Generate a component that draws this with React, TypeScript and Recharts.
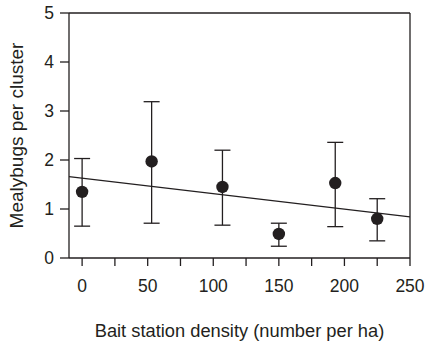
import React from 'react';
import { ComposedChart, Scatter, XAxis, YAxis, ErrorBar, ReferenceLine } from 'recharts';

const density = [0, 53, 107, 150, 193, 225];
const meanMealybugs = [1.35, 1.97, 1.45, 0.49, 1.53, 0.8];
const upperBound = [2.03, 3.19, 2.2, 0.71, 2.36, 1.21];
const lowerBound = [0.65, 0.71, 0.67, 0.24, 0.64, 0.35];

const trendX = [-10, 250];
const trendY = [1.66, 0.84];

const xTicks = [0, 25, 50, 75, 100, 125, 150, 175, 200, 225, 250];
const yTicks = [0, 1, 2, 3, 4, 5];

const data = density.map((x, i) => ({
  x,
  y: meanMealybugs[i],
  err: [meanMealybugs[i] - lowerBound[i], upperBound[i] - meanMealybugs[i]],
}));

const INK = '#231f20';
const FONT = 'Liberation Sans, Arial, sans-serif';

const Dot = (p: any) => <circle cx={p.cx} cy={p.cy} r={6.2} fill={INK} />;

export default function App() {
  return (
    <div style={{ position: 'absolute', left: 0, top: 0 }}>
      <ComposedChart
        width={425}
        height={345}
        margin={{ top: 13, right: 15, bottom: 57, left: 19 }}
        style={{ fontFamily: FONT }}
      >
        <XAxis
          type="number"
          dataKey="x"
          domain={[-10, 250]}
          ticks={xTicks}
          interval={0}
          tickFormatter={(v: number) => (v % 50 === 0 ? String(v) : '')}
          tickSize={8}
          tickMargin={14}
          height={30}
          stroke={INK}
          strokeWidth={1.3}
          tick={{ fill: INK, fontSize: 17.5, fontFamily: FONT }}
          allowDataOverflow
          label={{
            value: 'Bait station density (number per ha)',
            position: 'bottom',
            offset: 36,
            style: { fill: INK, fontSize: 18.3, fontFamily: FONT },
          }}
        />
        <YAxis
          type="number"
          dataKey="y"
          domain={[0, 5]}
          ticks={yTicks}
          interval={0}
          tickSize={9}
          tickMargin={6}
          width={50}
          stroke={INK}
          strokeWidth={1.3}
          tick={{ fill: INK, fontSize: 17.5, fontFamily: FONT }}
          allowDataOverflow
          label={{
            value: 'Mealybugs per cluster',
            angle: -90,
            position: 'insideLeft',
            offset: -3,
            style: { fill: INK, fontSize: 19, fontFamily: FONT, textAnchor: 'middle' },
          }}
        />
        <ReferenceLine y={5} stroke={INK} strokeWidth={1.3} ifOverflow="visible" />
        <ReferenceLine x={250} stroke={INK} strokeWidth={1.3} ifOverflow="visible" />
        <ReferenceLine
          segment={[
            { x: trendX[0], y: trendY[0] },
            { x: trendX[1], y: trendY[1] },
          ]}
          stroke={INK}
          strokeWidth={1.3}
          ifOverflow="visible"
        />
        <Scatter data={data} dataKey="y" shape={Dot} isAnimationActive={false}>
          <ErrorBar dataKey="err" direction="y" width={8} stroke={INK} strokeWidth={1.3} isAnimationActive={false} />
        </Scatter>
      </ComposedChart>
    </div>
  );
}
